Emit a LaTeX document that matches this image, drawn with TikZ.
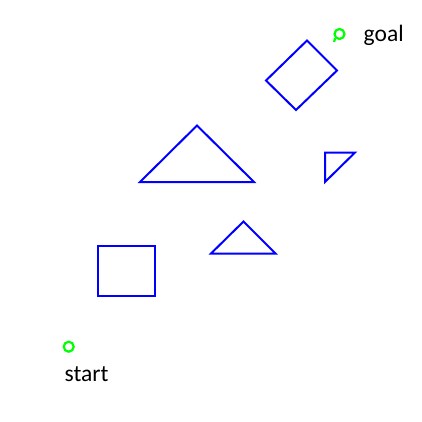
\documentclass[tikz,border=0pt]{standalone}
\usepackage{fontspec}
\setmainfont{Carlito}
\begin{document}
\begin{tikzpicture}[x=1pt,y=-1pt,
  obst/.style={draw=blue,line width=2pt,line join=miter},
  endpt/.style={draw=green,line width=2.2pt},
  lbl/.style={font=\fontsize{23.5}{28}\selectfont,inner sep=0pt,anchor=base west}]
\useasboundingbox (0,0) rectangle (421,422);
\draw[obst] (307,40.5) -- (337,70.5) -- (296,110) -- (266,80.5) -- cycle;
\draw[obst] (140,182) -- (197,125.5) -- (254,182) -- cycle;
\draw[obst] (325,152.5) -- (355,152.5) -- (325,182) -- cycle;
\draw[obst] (211,253.5) -- (243.5,221.5) -- (275.5,253.5) -- cycle;
\draw[obst] (97.5,246) rectangle (154.5,295.5);
\node[endpt,circle,minimum size=10pt,inner sep=0pt] (goalpt) at (339.5,34) {};
\draw[endpt] (goalpt.225) -- (334,42);
\node[endpt,circle,minimum size=10pt,inner sep=0pt] (startpt) at (68.7,346.7) {};
\node[lbl] (goal) at (363.5,41.7) {goal};
\node[lbl] (start) at (64.5,381.5) {start};
\end{tikzpicture}
\end{document}
